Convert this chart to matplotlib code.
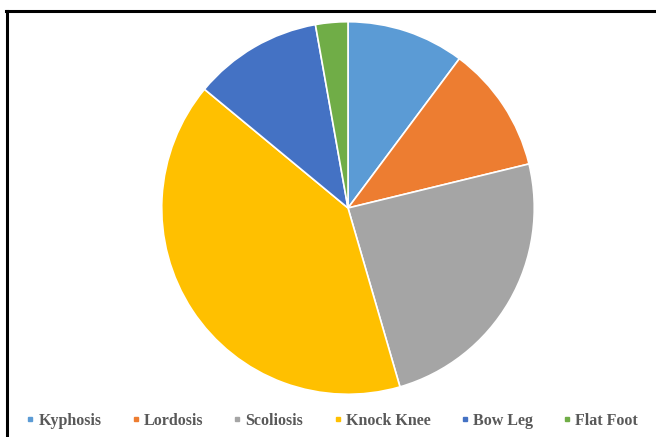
import matplotlib.pyplot as plt
from matplotlib.lines import Line2D

labels = ['Kyphosis', 'Lordosis', 'Scoliosis', 'Knock Knee', 'Bow Leg', 'Flat Foot']
values = [10.2, 11.0, 24.3, 40.5, 11.2, 2.8]
colors = ['#5B9BD5', '#ED7D31', '#A5A5A5', '#FFC000', '#4472C4', '#70AD47']

W, H = 656, 437
fig = plt.figure(figsize=(W / 100, H / 100), dpi=100)

# pie centre (348, 208) px, radius ~190 px
cx, cy, r = 348, 208, 190
ax = fig.add_axes([(cx - r) / W, (H - cy - r) / H, 2 * r / W, 2 * r / H])
ax.pie(values, colors=colors, startangle=90, counterclock=False,
       wedgeprops=dict(edgecolor='white', linewidth=1.2))
ax.set_xlim(-1.02, 1.02)
ax.set_ylim(-1.02, 1.02)
ax.set_aspect('equal')
ax.axis('off')

# border: only top and left visible (image cropped)
fig.add_artist(Line2D([7 / W, 7 / W], [0, 1 - 11 / H], color='black', lw=2.2,
                      transform=fig.transFigure))
fig.add_artist(Line2D([6 / W, 1], [1 - 11 / H, 1 - 11 / H], color='black', lw=2.2,
                      transform=fig.transFigure))

handles = [Line2D([0], [0], marker='s', color='none', markerfacecolor=c,
                  markeredgecolor=c, markersize=3) for c in colors]
fig.legend(handles, labels, ncol=6, loc='center', bbox_to_anchor=(332 / W, 1 - 421 / H),
           frameon=False, handlelength=0.5, handletextpad=0.25, columnspacing=1.9,
           prop={'family': 'Liberation Serif', 'weight': 'bold', 'size': 11.5},
           labelcolor='#595959')

fig.savefig('out.png', dpi=100)
